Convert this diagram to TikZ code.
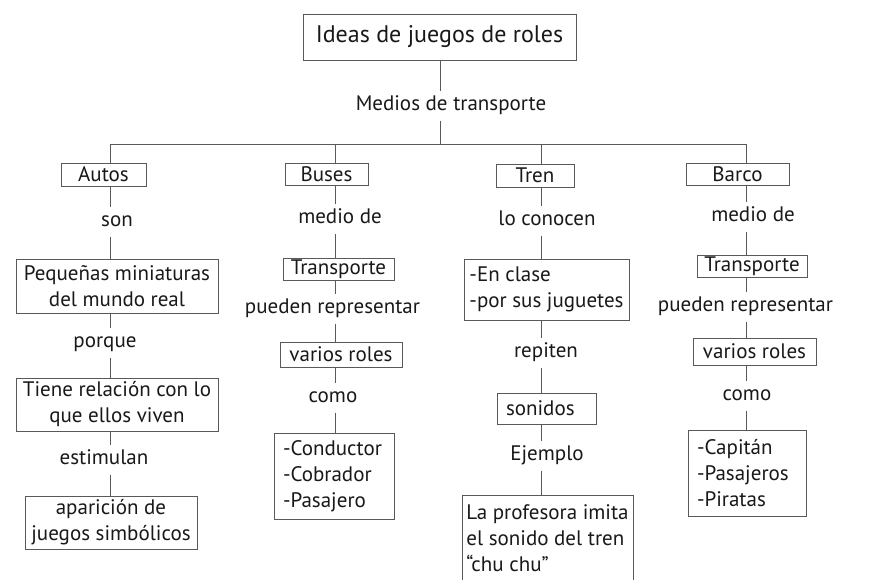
\documentclass[tikz,border=0pt]{standalone}
\usepackage{fontspec}
\setmainfont{PT Sans}
\tikzset{
  caja/.style={draw=black!65, line width=0.8pt, inner sep=0pt, align=center, text=black!90},
  lista/.style={caja, align=left, inner xsep=9pt},
  enlace/.style={inner xsep=0pt, inner ysep=5pt, text height=14pt, text depth=5pt, text=black!90},
  linea/.style={black!65, line width=0.8pt}
}
\begin{document}
\begin{tikzpicture}[x=1pt, y=-1pt, font=\fontsize{21}{26}\selectfont]
\useasboundingbox[fill=white] (0,0) rectangle (872,579);
\clip (0,0) rectangle (872,579);

% titulo
\node[caja, minimum width=273pt, minimum height=46pt, font=\fontsize{24}{28}\selectfont] (ideas) at (439.5,37) {Ideas de juegos de roles};
\node[enlace] (medios) at (451,106) {Medios de transporte};
\coordinate (barra) at (440,144);

% columnas
\coordinate (cA) at (110,0);
\coordinate (cB) at (335,0);
\coordinate (cT) at (541,0);
\coordinate (cC) at (746,0);

% Autos
\node[caja, minimum width=85pt, minimum height=23pt] (autos) at (103.5,174.5) {Autos};
\node[enlace] (son) at (117,222) {son};
\node[caja, minimum width=202pt, minimum height=54pt] (pequenas) at (117,286) {Pequeñas miniaturas\\del mundo real};
\node[enlace] (porque) at (105,343) {porque};
\node[caja, minimum width=202pt, minimum height=53pt] (tiene) at (117,404.5) {Tiene relación con lo\\que ellos viven};
\node[enlace] (estimulan) at (104,460) {estimulan};
\node[caja, minimum width=172pt, minimum height=53pt] (aparicion) at (111,522.5) {aparición de\\juegos simbólicos};

% Buses
\node[caja, minimum width=83pt, minimum height=22pt] (buses) at (326.5,174) {Buses};
\node[enlace] (medioB) at (340,219) {medio de};
\node[caja, minimum width=111pt, minimum height=22pt] (transpB) at (338.5,269) {Transporte};
\node[enlace] (puedenB) at (332.5,309) {pueden representar};
\node[caja, minimum width=122pt, minimum height=25pt] (variosB) at (341,354.5) {varios roles};
\node[enlace] (comoB) at (333,398) {como};
\node[lista, text width=102pt, minimum height=86pt] (rolesB) at (334,476) {-Conductor\\-Cobrador\\-Pasajero};

% Tren
\node[caja, minimum width=78pt, minimum height=23pt] (tren) at (535,175.5) {Tren};
\node[enlace] (conocen) at (547,221) {lo conocen};
\node[caja, align=left, minimum width=165pt, minimum height=61pt] (clase) at (546.5,289.5) {-En clase\\-por sus juguetes};
\node[enlace] (repiten) at (546,353) {repiten};
\node[lista, text width=81pt, minimum height=31pt] (sonidos) at (546.5,408.5) {sonidos};
\node[enlace] (ejemplo) at (547,456) {Ejemplo};
\node[caja, align=left, minimum width=171pt, minimum height=86pt, anchor=north] (profesora) at (547.5,495) {La profesora imita\\el sonido del tren\\“chu chu”};

% Barco
\node[caja, minimum width=103pt, minimum height=22pt] (barco) at (737.5,174) {Barco};
\node[enlace] (medioC) at (753,217) {medio de};
\node[caja, minimum width=110pt, minimum height=22pt] (transpC) at (752,266) {Transporte};
\node[enlace] (puedenC) at (745.5,307) {pueden representar};
\node[caja, minimum width=123pt, minimum height=27pt] (variosC) at (754.5,351.5) {varios roles};
\node[enlace] (comoC) at (747,396) {como};
\node[lista, text width=100pt, minimum height=86pt] (rolesC) at (747,473) {-Capitán\\-Pasajeros\\-Piratas};

% conectores
\draw[linea] (ideas.south -| barra) -- (medios.north -| barra);
\draw[linea] (medios.south -| barra) -- (barra);
\draw[linea] (cA |- autos.north) -- (cA |- barra) -- (cC |- barra) -- (cC |- barco.north);
\draw[linea] (cB |- barra) -- (cB |- buses.north);
\draw[linea] (cT |- barra) -- (cT |- tren.north);

\foreach \a/\b in {autos/son, son/pequenas, pequenas/porque, porque/tiene, tiene/estimulan, estimulan/aparicion}
  \draw[linea] (cA |- \a.south) -- (cA |- \b.north);
\foreach \a/\b in {buses/medioB, medioB/transpB, transpB/puedenB, puedenB/variosB, variosB/comoB, comoB/rolesB}
  \draw[linea] (cB |- \a.south) -- (cB |- \b.north);
\foreach \a/\b in {tren/conocen, conocen/clase, clase/repiten, repiten/sonidos, sonidos/ejemplo, ejemplo/profesora}
  \draw[linea] (cT |- \a.south) -- (cT |- \b.north);
\foreach \a/\b in {barco/medioC, medioC/transpC, transpC/puedenC, puedenC/variosC, variosC/comoC, comoC/rolesC}
  \draw[linea] (cC |- \a.south) -- (cC |- \b.north);
\end{tikzpicture}
\end{document}
